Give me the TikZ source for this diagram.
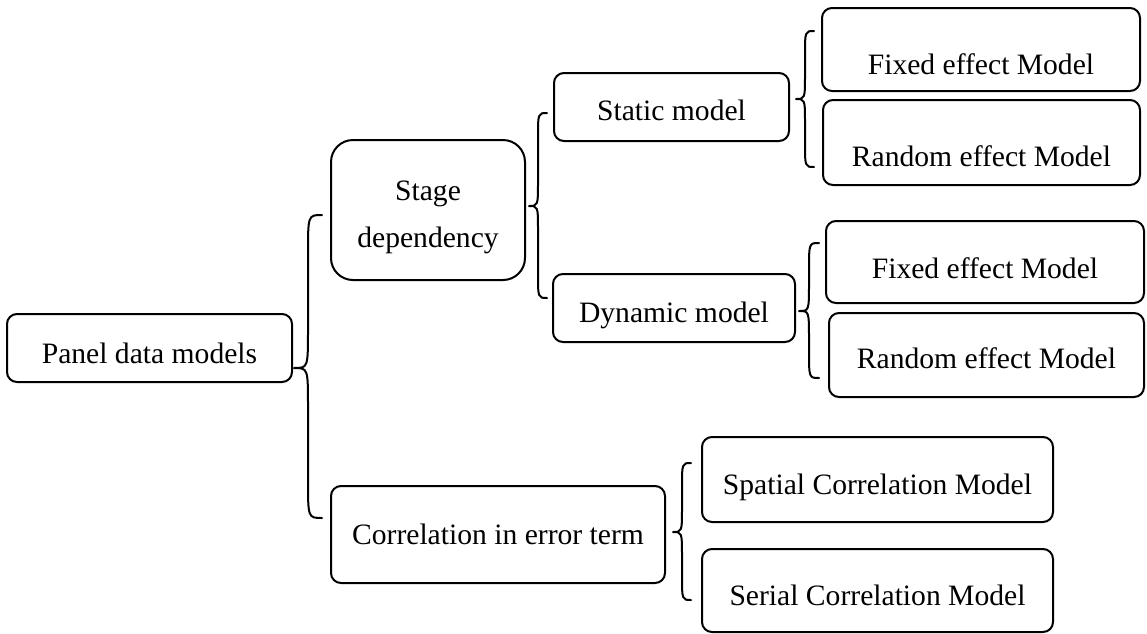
\documentclass[tikz,border=0pt]{standalone}
\usepackage{fontspec}
\setmainfont{Liberation Serif}
\usetikzlibrary{calc}

% curly brace: top end, tip, bottom end
\newcommand\drawbrace[3]{%
  \draw[brace] let \p1=(#1), \p2=(#2), \p3=(#3),
    \n1={(\x1+\x2)/2}, \n2={1.4*(\x1-\x2)} in
    (\p1) .. controls (\n1,\y1) .. (\n1,\y1-\n2)
    -- (\n1,\y2+\n2) .. controls (\n1,\y2) .. (\p2)
    .. controls (\n1,\y2) .. (\n1,\y2-\n2)
    -- (\n1,\y3+\n2) .. controls (\n1,\y3) .. (\p3);}

\tikzset{
  box/.style={draw, line width=1pt, rounded corners=5pt, inner sep=0pt},
  sz/.style 2 args={minimum width=#1pt, minimum height=#2pt},
  tb/.style={text height=#1pt, text depth=0pt},
  brace/.style={line width=1pt, line cap=round, line join=round}
}

\begin{document}
\begin{tikzpicture}[x=0.5pt,y=-0.5pt,
  every node/.append style={font=\fontsize{14.8}{23.5}\selectfont}]
\useasboundingbox (0,0) rectangle (1147,633);

% boxes
\node[box, sz={142.5}{34}, tb=15] (panel) at (149.5,348) {Panel data models};
\node[box, sz={97}{70}, rounded corners=11pt, text height=0pt, text depth=10pt] (stage) at (428,210)
  {\begin{tabular}[t]{@{}c@{}}Stage\\dependency\end{tabular}};
\node[box, sz={167}{48.5}, tb=9.5] (corr) at (498,534.5) {Correlation in error term};
\node[box, sz={117.5}{34}, tb=13] (static) at (671.5,107) {Static model};
\node[box, sz={121}{34}, tb=14] (dynamic) at (674,308) {Dynamic model};
\node[box, sz={159}{41.5}, tb=24.5] (fix1) at (981,49.5) {Fixed effect Model};
\node[box, sz={158.5}{42.5}, tb=23.5] (ran1) at (981.5,142.5) {Random effect Model};
\node[box, sz={159}{41}, tb=16] (fix2) at (985,262) {Fixed effect Model};
\node[box, sz={157.5}{42}, tb=13] (ran2) at (986.5,355) {Random effect Model};
\node[box, sz={175.5}{42.5}, tb=14.5] (spat) at (877.5,479.5) {Spatial Correlation Model};
\node[box, sz={175.5}{41.5}, tb=14.5] (ser) at (877.5,590.5) {Serial Correlation Model};

% brace end points
\coordinate (b1tip) at ($(panel.east)+(1,20)$);
\coordinate (b1top) at ($(stage.west)+(-8,5)$);
\coordinate (b1bot) at ($(corr.west)+(-8,-16.5)$);

\coordinate (b2tip) at ($(stage.east)+(3,-4)$);
\coordinate (b2top) at ($(static.west)+(-6,6)$);
\coordinate (b2bot) at ($(dynamic.west)+(-5,-10)$);

\coordinate (b3tip) at ($(static.east)+(6,-8)$);
\coordinate (b3top) at ($(fix1.west)+(-7,-18.5)$);
\coordinate (b3bot) at ($(ran1.west)+(-8,24.5)$);

\coordinate (b4tip) at ($(dynamic.east)+(3,3)$);
\coordinate (b4top) at ($(fix2.west)+(-6,-19)$);
\coordinate (b4bot) at ($(ran2.west)+(-9,23)$);

\coordinate (b5tip) at ($(corr.east)+(7,-2.5)$);
\coordinate (b5top) at ($(spat.west)+(-10,-16.5)$);
\coordinate (b5bot) at ($(ser.west)+(-10,9.5)$);

% braces
\drawbrace{b1top}{b1tip}{b1bot}
\drawbrace{b2top}{b2tip}{b2bot}
\drawbrace{b3top}{b3tip}{b3bot}
\drawbrace{b4top}{b4tip}{b4bot}
\drawbrace{b5top}{b5tip}{b5bot}
\end{tikzpicture}
\end{document}
